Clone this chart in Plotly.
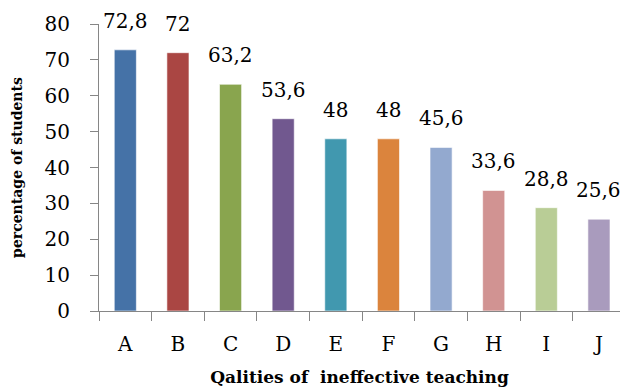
import plotly.graph_objects as go

# Qualities of ineffective teaching and share of students naming each
categories = ["A", "B", "C", "D", "E", "F", "G", "H", "I", "J"]
percentages = [72.8, 72, 63.2, 53.6, 48, 48, 45.6, 33.6, 28.8, 25.6]
bar_colors = ["#4572A7", "#AA4643", "#89A54E", "#71588F", "#4198AF",
              "#DB843D", "#93A9CF", "#D19392", "#B9CD96", "#A99BBD"]
y_ticks = [0, 10, 20, 30, 40, 50, 60, 70, 80]

# value labels use a decimal comma
labels = [f"{v:g}".replace(".", ",") for v in percentages]

serif = "DejaVu Serif"
axis_gray = "#868686"

fig = go.Figure(
    go.Bar(
        x=categories,
        y=percentages,
        marker=dict(color=bar_colors, line=dict(color="rgba(255,255,255,0.6)", width=1)),
        width=0.42,
        hoverinfo="x+y",
    )
)

# value labels sit a little above each bar
for cat, val, lab in zip(categories, percentages, labels):
    fig.add_annotation(
        x=cat, y=val, text=lab, showarrow=False,
        xanchor="center", yanchor="bottom", yshift=15,
        font=dict(family=serif, size=20, color="#000000"),
    )

fig.update_layout(
    width=620,
    height=391,
    margin=dict(l=99, r=0, t=24, b=80),
    paper_bgcolor="white",
    plot_bgcolor="white",
    showlegend=False,
)

fig.update_xaxes(
    range=[-0.5, 9.4],
    tickson="boundaries",
    ticks="outside",
    ticklen=9,
    tickcolor=axis_gray,
    showline=True,
    linecolor=axis_gray,
    linewidth=1,
    showgrid=False,
    ticklabelstandoff=15,
    tickfont=dict(family=serif, size=20, color="#000000"),
    title=dict(text="<b>Qalities of&nbsp; ineffective teaching</b>",
               font=dict(family=serif, size=17, color="#000000"),
               standoff=16),
)

fig.update_yaxes(
    range=[0, 80],
    tickvals=y_ticks,
    ticks="outside",
    ticklen=8,
    tickcolor=axis_gray,
    showline=True,
    linecolor=axis_gray,
    linewidth=1,
    showgrid=False,
    zeroline=False,
    ticklabelstandoff=16,
    tickfont=dict(family=serif, size=20, color="#000000"),
    title=dict(text="<b>percentage of students</b>",
               font=dict(family=serif, size=14, color="#000000"),
               standoff=18),
)

fig.write_html("out.html")
